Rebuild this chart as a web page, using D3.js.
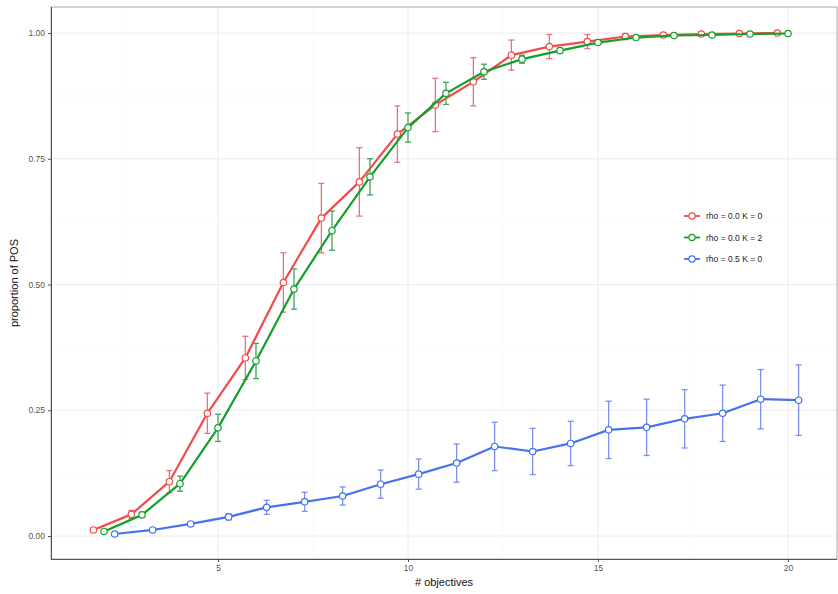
<!DOCTYPE html>
<html>
<head>
<meta charset="utf-8">
<script src="https://cdn.jsdelivr.net/npm/d3@7"></script>
<style>
  html, body { margin: 0; padding: 0; background: #fff; }
  svg { display: block; font-family: "Liberation Sans", Arial, sans-serif; }
</style>
</head>
<body>
<svg id="chart" width="838" height="594"></svg>
<script>
// ---- data ----
const objectives = [2,3,4,5,6,7,8,9,10,11,12,13,14,15,16,17,18,19,20];
const seriesNames = ["rho = 0.0 K = 0", "rho = 0.0 K = 2", "rho = 0.5 K = 0"];
const meanRho0K0 = [0.012,0.043,0.108,0.244,0.354,0.504,0.632,0.704,0.799,0.857,0.903,0.956,0.973,0.983,0.993,0.996,0.998,0.999,1.000];
const errRho0K0  = [0.004,0.008,0.022,0.040,0.043,0.059,0.069,0.068,0.056,0.053,0.048,0.030,0.024,0.014,0.006,0.003,0.002,0.001,0.000];
const meanRho0K2 = [0.009,0.042,0.104,0.215,0.348,0.491,0.607,0.714,0.812,0.880,0.923,0.948,0.965,0.981,0.991,0.995,0.996,0.998,0.999];
const errRho0K2  = [0.002,0.005,0.015,0.027,0.035,0.040,0.039,0.036,0.029,0.022,0.015,0.008,0.005,0.003,0.002,0.001,0.001,0.000,0.000];
const meanRho5K0 = [0.004,0.012,0.024,0.038,0.057,0.068,0.0795,0.103,0.123,0.145,0.178,0.168,0.184,0.211,0.216,0.233,0.244,0.272,0.270];
const errRho5K0  = [0.001,0.003,0.004,0.006,0.014,0.019,0.018,0.028,0.030,0.038,0.048,0.046,0.044,0.057,0.056,0.058,0.056,0.059,0.070];
const xTicks = [5,10,15,20];
const yTicks = [0,0.25,0.5,0.75,1];
const xTitle = "# objectives";
const yTitle = "proportion of POS";

// ---- styles ----
const lineColors = ["#f24b4b", "#13a02a", "#4472f0"];
const barColors  = ["#ee6f80", "#3fa55a", "#7d8ff0"];
const dodge = [-0.28, 0, 0.28];

const series = [
  {name: seriesNames[0], mean: meanRho0K0, err: errRho0K0},
  {name: seriesNames[1], mean: meanRho0K2, err: errRho0K2},
  {name: seriesNames[2], mean: meanRho5K0, err: errRho5K0}
];

const svg = d3.select("#chart");
const panel = {left: 51, top: 7, right: 837, bottom: 559};

const x = d3.scaleLinear().domain([10, 20]).range([408, 788]);
const y = d3.scaleLinear().domain([0, 1]).range([536, 33]);

// grid
const g = svg.append("g");
const xMinor = [2.5, 7.5, 12.5, 17.5];
const yMinor = [0.125, 0.375, 0.625, 0.875];
g.selectAll("line.xminor").data(xMinor).join("line")
  .attr("x1", d => x(d)).attr("x2", d => x(d))
  .attr("y1", panel.top).attr("y2", panel.bottom)
  .attr("stroke", "#f6f6f6").attr("stroke-width", 0.6);
g.selectAll("line.yminor").data(yMinor).join("line")
  .attr("x1", panel.left).attr("x2", panel.right)
  .attr("y1", d => y(d)).attr("y2", d => y(d))
  .attr("stroke", "#f6f6f6").attr("stroke-width", 0.6);
g.selectAll("line.xmajor").data(xTicks).join("line")
  .attr("x1", d => x(d)).attr("x2", d => x(d))
  .attr("y1", panel.top).attr("y2", panel.bottom)
  .attr("stroke", "#ececec").attr("stroke-width", 1);
g.selectAll("line.ymajor").data(yTicks).join("line")
  .attr("x1", panel.left).attr("x2", panel.right)
  .attr("y1", d => y(d)).attr("y2", d => y(d))
  .attr("stroke", "#ececec").attr("stroke-width", 1);

// panel border
svg.append("rect")
  .attr("x", panel.left).attr("y", panel.top)
  .attr("width", panel.right - panel.left).attr("height", panel.bottom - panel.top)
  .attr("fill", "none").attr("stroke", "#a8a8a8").attr("stroke-width", 1);

// axes
const xAxis = svg.append("g").attr("transform", `translate(0,${panel.bottom})`)
  .call(d3.axisBottom(x).tickValues(xTicks).tickSize(3).tickPadding(3).tickFormat(d3.format("d")));
const yAxis = svg.append("g").attr("transform", `translate(${panel.left},0)`)
  .call(d3.axisLeft(y).tickValues(yTicks).tickSize(3).tickPadding(3).tickFormat(d3.format(".2f")));
[xAxis, yAxis].forEach(a => {
  a.select(".domain").attr("stroke", "#555").attr("stroke-width", 1);
  a.selectAll(".tick line").attr("stroke", "#555");
  a.selectAll(".tick text").attr("fill", "#555").attr("font-size", 8.5)
    .attr("font-family", "'Liberation Sans', Arial, sans-serif");
});
xAxis.select(".domain").attr("d", `M${panel.left},0.5H${panel.right}`);
yAxis.select(".domain").attr("d", `M0.5,${panel.top}V${panel.bottom}`);

// axis titles
svg.append("text").attr("x", (panel.left + panel.right) / 2).attr("y", 586)
  .attr("text-anchor", "middle").attr("font-size", 11).attr("fill", "#111").text(xTitle);
svg.append("text").attr("transform", `translate(18,${(panel.top + panel.bottom) / 2}) rotate(-90)`)
  .attr("text-anchor", "middle").attr("font-size", 11).attr("fill", "#111").text(yTitle);

// series
const line = d3.line();
series.forEach((s, i) => {
  const pts = objectives.map((o, j) => ({
    px: x(o + dodge[i]), m: s.mean[j], e: s.err[j]
  }));
  const sg = svg.append("g");
  // error bars
  const eb = sg.append("g").attr("stroke", barColors[i]).attr("stroke-width", 1.3);
  pts.forEach(p => {
    if (p.e <= 0) return;
    const y0 = y(p.m - p.e), y1 = y(p.m + p.e);
    eb.append("line").attr("x1", p.px).attr("x2", p.px).attr("y1", y0).attr("y2", y1);
    eb.append("line").attr("x1", p.px - 3).attr("x2", p.px + 3).attr("y1", y0).attr("y2", y0);
    eb.append("line").attr("x1", p.px - 3).attr("x2", p.px + 3).attr("y1", y1).attr("y2", y1);
  });
  sg.append("path")
    .attr("d", line(pts.map(p => [p.px, y(p.m)])))
    .attr("fill", "none").attr("stroke", lineColors[i]).attr("stroke-width", 2.2)
    .attr("stroke-linejoin", "round");
  sg.selectAll("circle").data(pts).join("circle")
    .attr("cx", p => p.px).attr("cy", p => y(p.m)).attr("r", 3.2)
    .attr("fill", "#fff").attr("stroke", lineColors[i]).attr("stroke-width", 1.2);
});

// legend
const legY = [216, 237.5, 259];
const leg = svg.append("g");
seriesNames.forEach((n, i) => {
  const lg = leg.append("g").attr("transform", `translate(684,${legY[i]})`);
  lg.append("line").attr("x1", 0).attr("x2", 16).attr("y1", 0).attr("y2", 0)
    .attr("stroke", lineColors[i]).attr("stroke-width", 1.8);
  lg.append("circle").attr("cx", 8).attr("cy", 0).attr("r", 3.2)
    .attr("fill", "#fff").attr("stroke", lineColors[i]).attr("stroke-width", 1.2);
  lg.append("text").attr("x", 22).attr("y", 3).attr("font-size", 8.5).attr("fill", "#222").text(n);
});
</script>
</body>
</html>
